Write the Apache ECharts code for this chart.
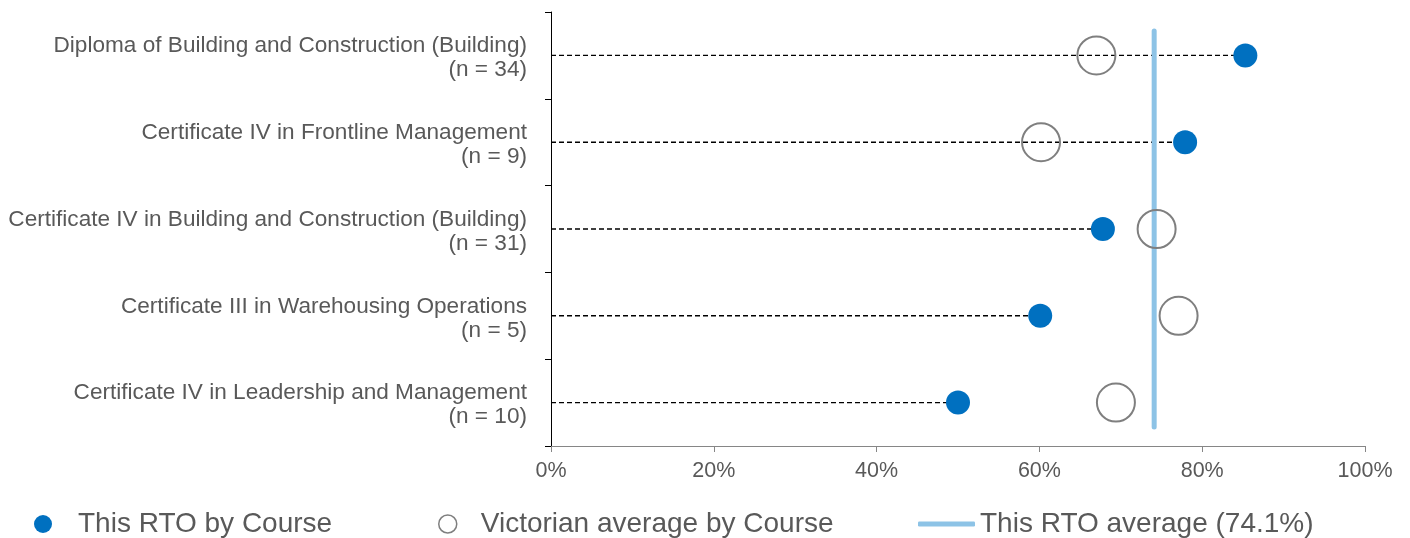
<!DOCTYPE html>
<html>
<head>
<meta charset="utf-8">
<script src="https://cdn.jsdelivr.net/npm/echarts@6/dist/echarts.min.js"></script>
<style>
html,body{margin:0;padding:0;background:#fff;}
#chart{width:1410px;height:538px;}
</style>
</head>
<body>
<div id="chart"></div>
<script>
const courses = [
  'Diploma of Building and Construction (Building)',
  'Certificate IV in Frontline Management',
  'Certificate IV in Building and Construction (Building)',
  'Certificate III in Warehousing Operations',
  'Certificate IV in Leadership and Management'
];
const counts = [34, 9, 31, 5, 10];
const rtoValues = [85.3, 77.9, 67.8, 60.1, 50.0];
const vicValues = [67.0, 60.2, 74.4, 77.1, 69.4];
const rtoAverage = 74.1;
const xTicks = [0, 20, 40, 60, 80, 100];

const seriesNames = ['This RTO by Course', 'Victorian average by Course', 'This RTO average (74.1%)'];
const FONT = "'Liberation Sans', Arial, sans-serif";
const TEXT = '#595959';

const categoryLabels = courses.map((c, i) => '{a|' + c + '}\n{b|(n = ' + counts[i] + ')}');

const chart = echarts.init(document.getElementById('chart'));
const labelStyle = { color: TEXT, fontSize: 22.6, lineHeight: 25, fontFamily: FONT, align: 'right' };
const option = {
  animation: false,
  textStyle: { fontFamily: FONT },
  grid: { left: 551, right: 45, top: 12, bottom: 92 },
  xAxis: {
    type: 'value',
    min: xTicks[0],
    max: xTicks[xTicks.length - 1],
    interval: xTicks[1] - xTicks[0],
    axisLine: { show: true, lineStyle: { color: '#868686', width: 1 } },
    axisTick: { show: true, length: 6, lineStyle: { color: '#868686' } },
    splitLine: { show: false },
    axisLabel: { formatter: '{value}%', color: TEXT, fontSize: 21.5, fontFamily: FONT, margin: 14 }
  },
  yAxis: {
    type: 'category',
    inverse: true,
    data: categoryLabels,
    axisLine: { show: true, lineStyle: { color: '#000', width: 1 } },
    axisTick: { show: true, length: 6, inside: false, lineStyle: { color: '#000' } },
    axisLabel: {
      color: TEXT, fontSize: 22.6, lineHeight: 25, fontFamily: FONT, margin: 24, align: 'right',
      rich: {
        a: Object.assign({}, labelStyle, { padding: [6, 0, 0, 0] }),
        b: Object.assign({}, labelStyle, { padding: [4, 0, 0, 0] })
      }
    }
  },
  legend: [
    {
      left: 29, top: 505, itemWidth: 18, itemHeight: 18,
      data: [{ name: seriesNames[0], icon: 'circle', itemStyle: { color: '#0070C0', borderWidth: 0 } }],
      textStyle: { color: TEXT, fontSize: 28, fontFamily: FONT, padding: [0, 0, 0, 21] }
    },
    {
      left: 433, top: 505, itemWidth: 18, itemHeight: 18,
      data: [{ name: seriesNames[1], icon: 'circle', itemStyle: { color: 'rgba(0,0,0,0)', borderColor: '#7F7F7F', borderWidth: 1.5 } }],
      textStyle: { color: TEXT, fontSize: 28, fontFamily: FONT, padding: [0, 0, 0, 19] }
    },
    {
      left: 913, top: 505, itemWidth: 57, itemHeight: 5,
      data: [{ name: seriesNames[2], icon: 'roundRect', itemStyle: { color: '#8DC3E6', borderWidth: 0 } }],
      textStyle: { color: TEXT, fontSize: 28, fontFamily: FONT }
    }
  ],
  series: [
    {
      name: 'connector',
      type: 'custom',
      z: 1,
      silent: true,
      data: rtoValues.map((v, i) => [v, i]),
      encode: { x: 0, y: 1 },
      renderItem: function (params, api) {
        const s = api.coord([0, api.value(1)]);
        const e = api.coord([api.value(0), api.value(1)]);
        return {
          type: 'line',
          shape: { x1: s[0], y1: s[1], x2: e[0], y2: e[1] },
          style: { stroke: '#000', lineWidth: 1.4, lineDash: [5, 3] }
        };
      }
    },
    {
      name: seriesNames[2],
      type: 'custom',
      z: 2,
      silent: true,
      data: [[rtoAverage, 0]],
      encode: { x: 0, y: 1 },
      itemStyle: { color: '#8DC3E6' },
      renderItem: function (params, api) {
        const top = api.coord([api.value(0), 0]);
        const bot = api.coord([api.value(0), courses.length - 1]);
        const band = api.size([0, 1])[1];
        return {
          type: 'line',
          shape: { x1: top[0], y1: top[1] - band * 0.28, x2: bot[0], y2: bot[1] + band * 0.28 },
          style: { stroke: '#8DC3E6', lineWidth: 5, lineCap: 'round' }
        };
      }
    },
    {
      name: seriesNames[1],
      type: 'scatter',
      z: 3,
      symbol: 'circle',
      symbolSize: 38,
      data: vicValues.map((v, i) => [v, i]),
      itemStyle: { color: 'rgba(0,0,0,0)', borderColor: '#7F7F7F', borderWidth: 2, opacity: 1 }
    },
    {
      name: seriesNames[0],
      type: 'scatter',
      z: 4,
      symbol: 'circle',
      symbolSize: 24,
      data: rtoValues.map((v, i) => [v, i]),
      itemStyle: { color: '#0070C0', opacity: 1 }
    }
  ]
};
chart.setOption(option);
</script>
</body>
</html>
